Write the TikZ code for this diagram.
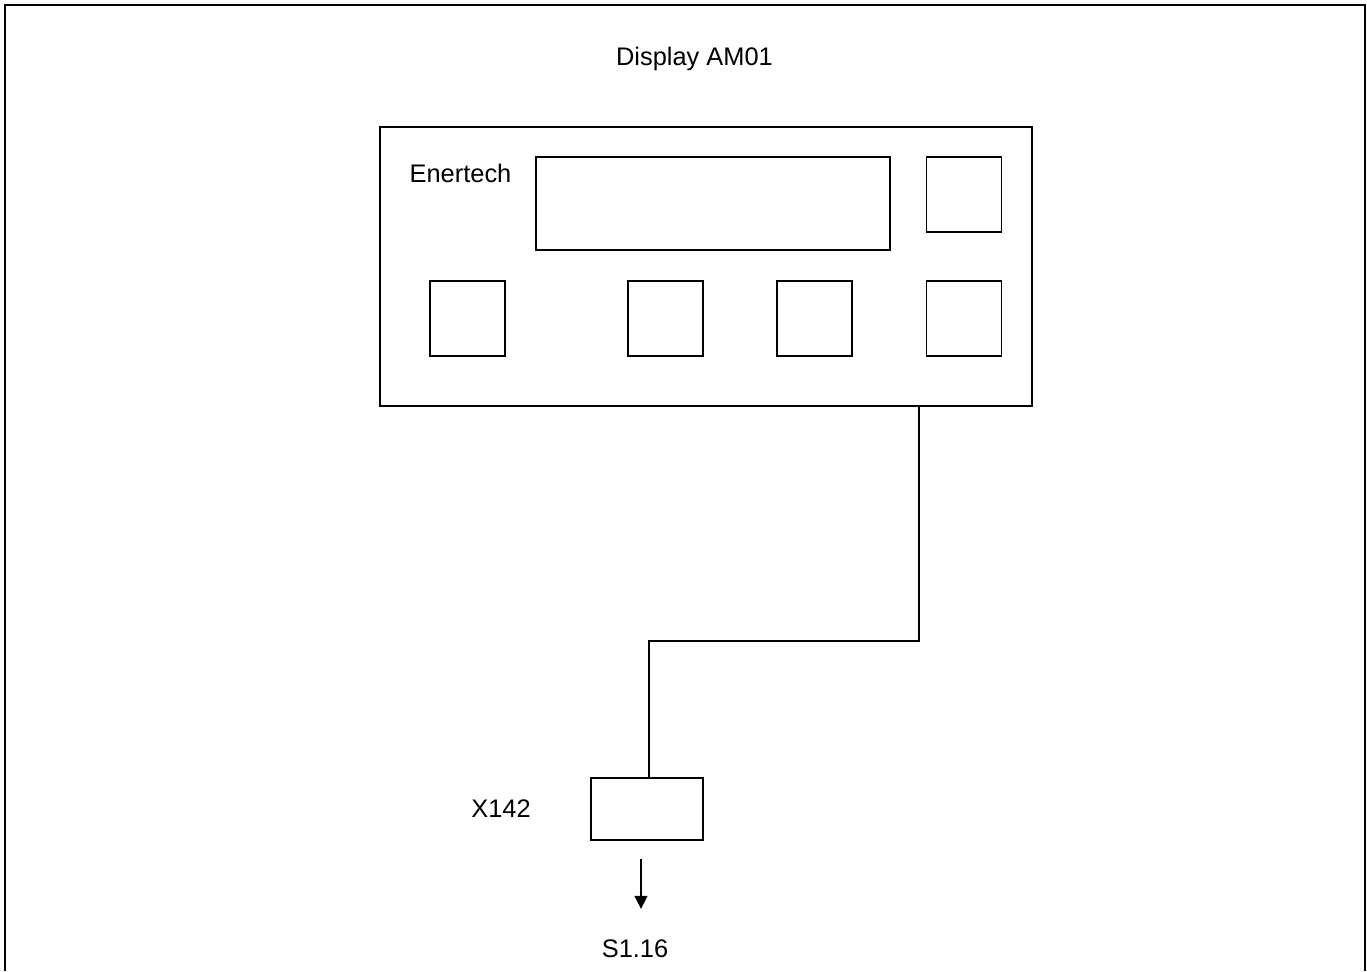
\documentclass[tikz,border=0pt]{standalone}
\usepackage{fontspec}
\setmainfont{Liberation Sans}
\usepackage{tikz}
\usetikzlibrary{arrows.meta}
\tikzset{
  frm/.style={line width=1.3pt},
  box/.style={draw,line width=0.8pt,inner sep=0pt},
  key/.style={box,minimum width=37.5pt,minimum height=37.5pt},
  wire/.style={line width=0.8pt},
  arr/.style={line width=0.8pt,-{Triangle[length=6.5pt,width=6.5pt]}},
  lbl/.style={anchor=base,inner sep=0pt,font=\fontsize{12.7}{15}\selectfont}
}

\begin{document}
\begin{tikzpicture}[x=0.5pt,y=-0.5pt]
\useasboundingbox (0,0) rectangle (1367,971);
\draw[frm] (5,971) -- (5,5) -- (1365,5) -- (1365,971);
\node[lbl] (title) at (694.5,65) {Display AM01};
\node[box,minimum width=326pt,minimum height=139.5pt] (main) at (706,266.5) {};
\node[lbl] (brand) at (460.5,182) {Enertech};
\node[box,minimum width=177pt,minimum height=46.5pt] (screen) at (713,203.5) {};
\node[key,minimum height=37.5pt] (ktop) at (964,194.5) {};
\node[key] (k1) at (467.5,318.5) {};
\node[key] (k2) at (665.5,318.5) {};
\node[key] (k3) at (814.5,318.5) {};
\node[key] (k4) at (964,318.5) {};
% connector X142
\node[box,minimum width=56pt,minimum height=31pt] (x142) at (647,809) {};
\node[lbl] (x142l) at (501,817) {X142};
\coordinate (bend) at (919,641);
\draw[wire] (main.south -| bend) -- (bend) -| ([xshift=1pt]x142.north);
\draw[arr] ([xshift=-3pt,yshift=-9pt]x142.south) -- ++(0,-25pt);
\node[lbl] (s116) at (635,957) {S1.16};
\end{tikzpicture}
\end{document}
